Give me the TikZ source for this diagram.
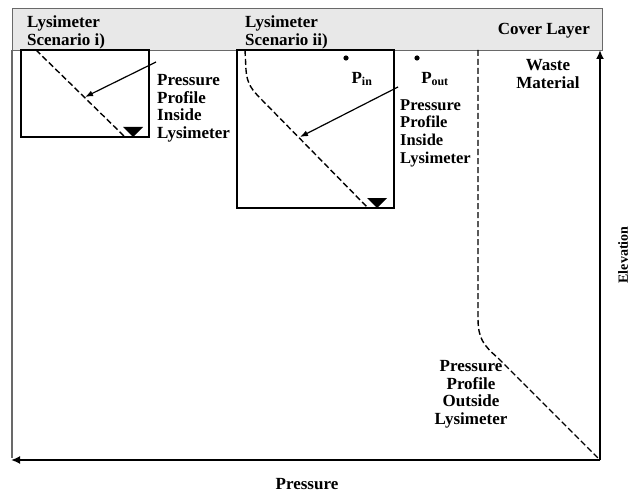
\documentclass[tikz,border=0pt]{standalone}
\usepackage{fontspec}
\setmainfont{Liberation Serif}
\usetikzlibrary{arrows.meta, positioning}
\definecolor{bandgray}{RGB}{232,232,232}
\definecolor{framegray}{RGB}{105,105,105}

\begin{document}
\begin{tikzpicture}[
        x=1pt, y=-1pt,
        lysbox/.style={draw=black, line width=1.5pt},
        profile/.style={draw=black, line width=1.4pt, dash pattern=on 6pt off 3pt},
        axis/.style={draw=black, line width=1.8pt, -{Latex[length=9pt, width=8pt]}},
        pointer/.style={draw=black, line width=1.2pt, -{Latex[length=8pt, width=6pt]}},
        lbl/.style={align=left, font=\fontsize{17}{17.7}\selectfont\bfseries, inner sep=0pt},
        clbl/.style={lbl, align=center},
        wtable/.style={fill=black}
    ]
        \useasboundingbox (0,0) rectangle (637,492);

        % cover layer band and frame
        \draw[framegray, line width=0.9pt, fill=bandgray] (12,8) rectangle (602,50);
        \draw[framegray, line width=1.1pt] (12,50) -- (12,458);

        % lysimeter boxes
        \draw[lysbox] (21,50) rectangle (149,137);
        \draw[lysbox] (237,50) rectangle (394,208);

        % water table marks
        \fill[wtable] (123,127) -- (143,127) -- (133,137) -- cycle;
        \fill[wtable] (367,198) -- (387,198) -- (377,208) -- cycle;

        % pressure profiles
        \draw[profile] (36,50) -- (125,137);
        \draw[profile] (245,50) -- (246,70) .. controls (247,84) and (252,90) .. (262,100) -- (368,208);
        \draw[profile] (478,50) -- (478,318) .. controls (478,338) and (483,345) .. (498,358) -- (600,460);

        % axes
        \coordinate (origin) at (600,460);
        \coordinate (pend) at (11,460);
        \coordinate (eend) at (600,50);
        \draw[axis] (origin) -- (pend);
        \draw[axis] (origin) -- (eend);
        \node[lbl] (pressure) at (307,484) {Pressure};
        \node[lbl, rotate=90, font=\fontsize{14}{15}\selectfont\bfseries] (elevation) at (623,255) {Elevation};

        % band texts
        \node[lbl, anchor=north west] (scenA) at (27,16) {Lysimeter\\Scenario i)};
        \node[lbl, anchor=north west] (scenB) at (245,16) {Lysimeter\\Scenario ii)};
        \node[lbl, anchor=east] (cover) at (590,31) {Cover Layer};
        \node[clbl, anchor=north] (waste) at (548,59) {Waste\\Material};

        % measuring points
        \fill (346,58) circle (2.6pt) coordinate (pin);
        \fill (417,58) circle (2.6pt) coordinate (pout);
        \node[lbl] (pinlbl) at (362,79) {P\textsubscript{in}};
        \node[lbl] (poutlbl) at (435,79) {P\textsubscript{out}};

        % profile labels
        \node[lbl, anchor=north west] (insideA) at (157,74) {Pressure\\Profile\\Inside\\Lysimeter};
        \node[lbl, anchor=north west, font=\fontsize{16.5}{17.7}\selectfont\bfseries] (insideB) at (400,99) {Pressure\\Profile\\Inside\\Lysimeter};
        \node[clbl, anchor=north] (outside) at (471,360) {Pressure\\Profile\\Outside\\Lysimeter};

        \coordinate (ptrAstart) at (156,62);
        \coordinate (ptrAend) at (85,97);
        \coordinate (ptrBstart) at (398,87);
        \coordinate (ptrBend) at (300,137);
        \draw[pointer] (ptrAstart) -- (ptrAend);
        \draw[pointer] (ptrBstart) -- (ptrBend);
    \end{tikzpicture}
\end{document}
